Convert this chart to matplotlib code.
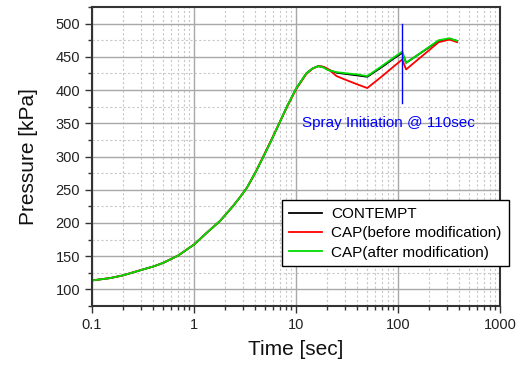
import matplotlib
matplotlib.use("Agg")
import matplotlib.pyplot as plt
from matplotlib.ticker import MultipleLocator, LogLocator, NullFormatter, FixedLocator, FixedFormatter

# data
time = [0.1, 0.15, 0.2, 0.3, 0.4, 0.5, 0.7, 1.0, 1.15, 1.35, 1.8, 2.0, 2.4, 2.8, 3.3, 4.0,
        4.8, 5.8, 6.9, 8.2, 10, 12.6, 14.5, 16.5, 18.5, 20.5, 25, 30, 40, 50, 70, 90,
        110, 120, 150, 200, 250, 320, 380]

contempt = [113.5, 117, 121, 129, 134.5, 140, 151, 167.5, 176, 186, 203, 211, 225, 238, 253, 276,
            300, 326, 351, 376, 402, 425, 432.5, 436, 435, 431, 426, 424.5, 422, 420, 435, 447,
            456, 441, 451, 464, 474, 477, 474]

cap_before = [113.5, 117, 121, 129, 134.5, 140, 151, 167.5, 176, 186, 203, 211, 225, 238, 253, 276,
              301, 327, 351, 375, 401, 424, 432, 436, 435, 432, 421, 416, 408.5, 403, 421, 435,
              446, 431, 443.5, 459.5, 472, 476, 472]

cap_after = [113.5, 117, 121, 129, 134.5, 140, 151, 167.5, 176, 186, 203, 211, 225, 238, 253, 276,
             300, 326, 351, 376, 402, 425, 432.5, 436, 434, 430, 427, 425.5, 423.5, 421, 436.5, 448.5,
             458, 441, 451, 464.5, 475, 478, 474]

spray_time = 110
spray_label = "Spray Initiation @ 110sec"

plt.rcParams['font.family'] = ['Liberation Sans', 'DejaVu Sans']

fig = plt.figure(figsize=(5.21, 3.65), dpi=100)
ax = fig.add_axes([0.1766, 0.1616, 0.7831, 0.8192])

ax.plot(time, contempt, color='black', linewidth=1.3, label='CONTEMPT')
ax.plot(time, cap_before, color='#ff0000', linewidth=1.3, label='CAP(before modification)')
ax.plot(time, cap_after, color='#00dd00', linewidth=1.3, label='CAP(after modification)')

# spray marker
ax.plot([spray_time, spray_time], [380, 500], color='#0000ff', linewidth=1.0)
ax.text(11.4, 350, spray_label, color='#0000ff', fontsize=11,
        va='center', ha='left')

ax.set_xscale('log')
ax.set_xlim(0.1, 1000)
ax.set_ylim(75, 525)

ax.xaxis.set_major_locator(FixedLocator([0.1, 1, 10, 100, 1000]))
ax.xaxis.set_major_formatter(FixedFormatter(['0.1', '1', '10', '100', '1000']))
ax.xaxis.set_minor_locator(LogLocator(base=10, subs=range(2, 10)))
ax.xaxis.set_minor_formatter(NullFormatter())
ax.yaxis.set_major_locator(MultipleLocator(50))
ax.yaxis.set_minor_locator(MultipleLocator(25))

ax.grid(which='major', color='#a8a8a8', linestyle='-', linewidth=1.0)
ax.grid(which='minor', color='#c8c8c8', linestyle=(0, (2, 2)), linewidth=0.8)
ax.set_axisbelow(True)

for s in ax.spines.values():
    s.set_color('#333333')
    s.set_linewidth(1.5)

ax.tick_params(which='major', direction='out', length=5, width=1.0,
               labelsize=10.5, color='#333333', labelcolor='#222222')
ax.tick_params(which='minor', direction='out', length=3, width=1.0, color='#333333')

ax.set_xlabel('Time [sec]', fontsize=15, color='#111111', labelpad=6)
ax.set_ylabel('Pressure [kPa]', fontsize=15, color='#111111', labelpad=13)

leg = ax.legend(loc='upper left', bbox_to_anchor=(0.5407, 0.452),
                bbox_transform=fig.transFigure, borderaxespad=0,
                fontsize=11, frameon=True, fancybox=False,
                handlelength=2.2, handletextpad=0.6, labelspacing=0.35,
                borderpad=0.45)
leg.get_frame().set_edgecolor('black')
leg.get_frame().set_linewidth(1.0)
leg.get_frame().set_alpha(1)

fig.savefig('out.png', dpi=100)
